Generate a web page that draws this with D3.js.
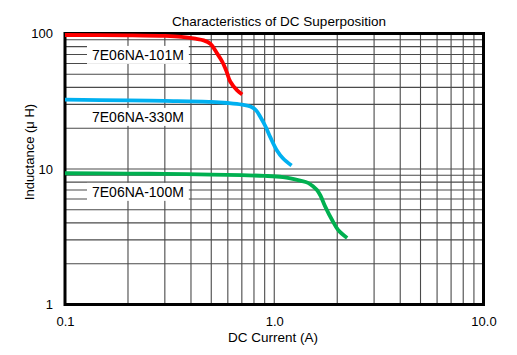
<!DOCTYPE html>
<html>
<head>
<meta charset="utf-8">
<script src="https://cdn.jsdelivr.net/npm/d3@7"></script>
<style>
  html, body { margin: 0; padding: 0; background: #fff; }
  svg { display: block; font-family: "Liberation Sans", Arial, sans-serif; }
</style>
</head>
<body>
<svg id="chart" width="517" height="355"></svg>
<script>
// ---- data ----
const seriesNames = ["7E06NA-101M", "7E06NA-330M", "7E06NA-100M"];
const seriesColors = ["#ff0000", "#00b0f0", "#00b050"];

const current101 = [0.1, 0.2, 0.3, 0.36, 0.42, 0.46, 0.495, 0.534, 0.564, 0.59, 0.616, 0.665, 0.703];
const induct101  = [97.5, 97, 96, 94.5, 91.5, 89, 84, 71, 62, 53, 44.2, 38, 35.5];

const current330 = [0.1, 0.2, 0.3, 0.5, 0.6, 0.7, 0.77, 0.82, 0.86, 0.91, 0.957, 1.03, 1.1, 1.21];
const induct330  = [32.5, 32.1, 31.8, 31.3, 30.7, 29.9, 28.9, 27, 24.1, 20.5, 17.2, 13.7, 12, 10.6];

const current100 = [0.1, 0.2, 0.3, 0.5, 0.7, 0.9, 1.1, 1.33, 1.45, 1.54, 1.6, 1.66, 1.75, 1.89, 2.02, 2.23];
const induct100  = [9.3, 9.25, 9.2, 9.1, 9.0, 8.9, 8.7, 8.2, 7.9, 7.4, 7.0, 6.4, 5.3, 4.2, 3.55, 3.1];

const xTickValues = [0.1, 1, 10];
const xTickLabels = ["0.1", "1.0", "10.0"];
const yTickValues = [1, 10, 100];
const yTickLabels = ["1", "10", "100"];

const titleText = "Characteristics of DC Superposition";
const xTitle = "DC Current (A)";
const yTitle = "Inductance (\u03bc H)";

// ---- layout ----
const svg = d3.select("#chart");
const mLeft = 65, mRight = 483.5, mTop = 33.5, mBottom = 304.5;

const x = d3.scaleLog().domain([0.1, 10]).range([mLeft, mRight]);
const y = d3.scaleLog().domain([1, 100]).range([mBottom, mTop]);

// grid values: 1..9 per decade
const gridX = [];
[0.1, 1].forEach(d => { for (let k = 1; k <= 9; k++) gridX.push(+(d * k).toFixed(3)); });
gridX.push(10);
const gridY = [];
[1, 10].forEach(d => { for (let k = 1; k <= 9; k++) gridY.push(d * k); });
gridY.push(100);

const grid = svg.append("g");
grid.selectAll("line.gx").data(gridX).join("line")
  .attr("x1", d => x(d)).attr("x2", d => x(d))
  .attr("y1", mTop).attr("y2", mBottom)
  .attr("stroke", "#4a4a4a").attr("stroke-width", 1.1);
grid.selectAll("line.gy").data(gridY).join("line")
  .attr("y1", d => y(d)).attr("y2", d => y(d))
  .attr("x1", mLeft).attr("x2", mRight)
  .attr("stroke", "#4a4a4a").attr("stroke-width", 1.1);

// axes (labels only)
const xAxis = d3.axisBottom(x).tickValues(xTickValues)
  .tickFormat((d, i) => xTickLabels[i]).tickSize(0).tickPadding(12);
const gx = svg.append("g").attr("transform", `translate(0,${mBottom})`).call(xAxis);
gx.select(".domain").remove();
gx.selectAll("text").attr("font-size", 13).attr("fill", "#000")
  .attr("font-family", "Liberation Sans, Arial, sans-serif");

const yAxis = d3.axisLeft(y).tickValues(yTickValues)
  .tickFormat((d, i) => yTickLabels[i]).tickSize(0).tickPadding(12);
const gy = svg.append("g").attr("transform", `translate(${mLeft},0)`).call(yAxis);
gy.select(".domain").remove();
gy.selectAll("text").attr("font-size", 13).attr("fill", "#000")
  .attr("font-family", "Liberation Sans, Arial, sans-serif");

// series lines
const seriesData = [
  current101.map((c, i) => [c, induct101[i]]),
  current330.map((c, i) => [c, induct330[i]]),
  current100.map((c, i) => [c, induct100[i]])
];
const line = d3.line().x(d => x(d[0])).y(d => y(d[1])).curve(d3.curveCatmullRom.alpha(0.5));

// frame
svg.append("rect")
  .attr("x", mLeft).attr("y", mTop)
  .attr("width", mRight - mLeft).attr("height", mBottom - mTop)
  .attr("fill", "none").attr("stroke", "#000").attr("stroke-width", 3);

svg.append("g").selectAll("path").data(seriesData).join("path")
  .attr("d", line)
  .attr("fill", "none")
  .attr("stroke", (d, i) => seriesColors[i])
  .attr("stroke-width", 3.8)
  .attr("stroke-linecap", "butt")
  .attr("stroke-linejoin", "round");

// series labels with white backgrounds
const labelPos = [69.4, 24.2, 6.77];
const lg = svg.append("g");
seriesNames.forEach((name, i) => {
  const g = lg.append("g");
  const t = g.append("text")
    .attr("x", 92).attr("y", y(labelPos[i]))
    .attr("dy", "0.35em")
    .attr("font-size", 14)
    .attr("fill", "#000")
    .text(name);
  const bb = t.node().getBBox();
  g.insert("rect", "text")
    .attr("x", bb.x - 5).attr("y", bb.y - 1)
    .attr("width", bb.width + 10).attr("height", bb.height + 2)
    .attr("fill", "#fff");
});

// titles
svg.append("text").attr("x", 279).attr("y", 26)
  .attr("text-anchor", "middle").attr("font-size", 13.5).text(titleText);
svg.append("text").attr("x", 273).attr("y", 342)
  .attr("text-anchor", "middle").attr("font-size", 13.5).text(xTitle);
svg.append("text")
  .attr("transform", "translate(34,152) rotate(-90)")
  .attr("text-anchor", "middle").attr("font-size", 13).text(yTitle);
</script>
</body>
</html>
